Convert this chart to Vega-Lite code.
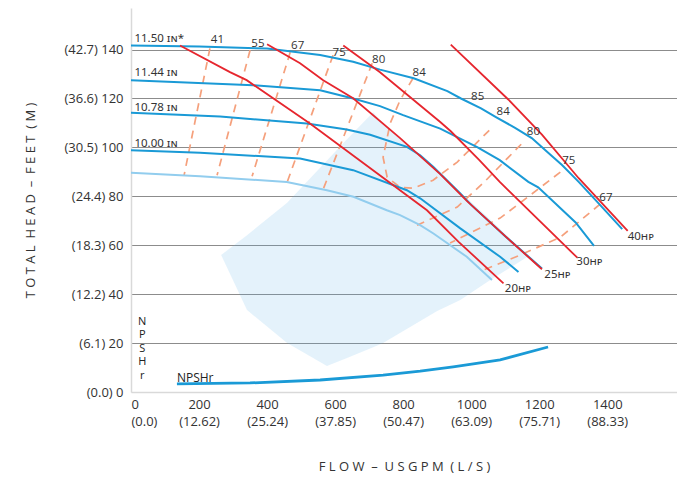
{
  "$schema": "https://vega.github.io/schema/vega-lite/v6.json",
  "width": 546,
  "height": 384,
  "autosize": {"type": "none"},
  "padding": {"left": 131, "top": 8, "right": 0, "bottom": 86},
  "config": {"view": {"stroke": null}, "font": "Open Sans", "text": {"font": "Open Sans", "color": "#333333"}},
  "datasets": {
    "shade": [
      {"flow": 265, "head": 56.0, "head2": 56.0},
      {"flow": 341, "head": 33.5, "head2": 64.1},
      {"flow": 459, "head": 20.0, "head2": 77.4},
      {"flow": 576, "head": 10.6, "head2": 94.6},
      {"flow": 635, "head": 13.9, "head2": 103.3},
      {"flow": 712, "head": 18.3, "head2": 114.4},
      {"flow": 741, "head": 20.0, "head2": 109.7},
      {"flow": 900, "head": 33.1, "head2": 90.2},
      {"flow": 968, "head": 37.6, "head2": 81.7},
      {"flow": 1056, "head": 45.8, "head2": 70.5},
      {"flow": 1168, "head": 55.5, "head2": 55.5}
    ],
    "eff": [
      {"series": "41", "i": 1, "flow": 232, "head": 140.5},
      {"series": "41", "i": 2, "flow": 156, "head": 88.6},
      {"series": "55", "i": 1, "flow": 350, "head": 139.7},
      {"series": "55", "i": 2, "flow": 253, "head": 88.6},
      {"series": "67L", "i": 1, "flow": 468, "head": 138.9},
      {"series": "67L", "i": 2, "flow": 356, "head": 88.2},
      {"series": "75L", "i": 1, "flow": 594, "head": 137.7},
      {"series": "75L", "i": 2, "flow": 459, "head": 85.8},
      {"series": "80L", "i": 1, "flow": 709, "head": 134.4},
      {"series": "80L", "i": 2, "flow": 565, "head": 82.9},
      {"series": "84", "i": 1, "flow": 829, "head": 128.3},
      {"series": "84", "i": 2, "flow": 791, "head": 119.3},
      {"series": "84", "i": 3, "flow": 762, "head": 109.9},
      {"series": "84", "i": 4, "flow": 741, "head": 96.0},
      {"series": "84", "i": 5, "flow": 753, "head": 87.8},
      {"series": "84", "i": 6, "flow": 791, "head": 83.7},
      {"series": "84", "i": 7, "flow": 829, "head": 83.3},
      {"series": "84", "i": 8, "flow": 888, "head": 86.6},
      {"series": "84", "i": 9, "flow": 959, "head": 94.0},
      {"series": "84", "i": 10, "flow": 1059, "head": 107.8},
      {"series": "80R", "i": 1, "flow": 1147, "head": 101.3},
      {"series": "80R", "i": 2, "flow": 1038, "head": 85.8},
      {"series": "80R", "i": 3, "flow": 959, "head": 75.6},
      {"series": "80R", "i": 4, "flow": 841, "head": 68.2},
      {"series": "75R", "i": 1, "flow": 1262, "head": 89.9},
      {"series": "75R", "i": 2, "flow": 1174, "head": 80.5},
      {"series": "75R", "i": 3, "flow": 1085, "head": 71.1},
      {"series": "75R", "i": 4, "flow": 938, "head": 60.9},
      {"series": "67R", "i": 1, "flow": 1379, "head": 76.8},
      {"series": "67R", "i": 2, "flow": 1262, "head": 63.3},
      {"series": "67R", "i": 3, "flow": 1144, "head": 56.0},
      {"series": "67R", "i": 4, "flow": 1035, "head": 49.8}
    ],
    "curves": [
      {"series": "11.50", "kind": "main", "flow": 0, "head": 141.7},
      {"series": "11.50", "kind": "main", "flow": 200, "head": 141.3},
      {"series": "11.50", "kind": "main", "flow": 400, "head": 140.4},
      {"series": "11.50", "kind": "main", "flow": 556, "head": 137.8},
      {"series": "11.50", "kind": "main", "flow": 653, "head": 135.0},
      {"series": "11.50", "kind": "main", "flow": 732, "head": 131.8},
      {"series": "11.50", "kind": "main", "flow": 831, "head": 128.3},
      {"series": "11.50", "kind": "main", "flow": 930, "head": 123.0},
      {"series": "11.50", "kind": "main", "flow": 970, "head": 120.0},
      {"series": "11.50", "kind": "main", "flow": 1029, "head": 116.0},
      {"series": "11.50", "kind": "main", "flow": 1074, "head": 112.3},
      {"series": "11.50", "kind": "main", "flow": 1129, "head": 108.0},
      {"series": "11.50", "kind": "main", "flow": 1178, "head": 103.8},
      {"series": "11.50", "kind": "main", "flow": 1228, "head": 97.6},
      {"series": "11.50", "kind": "main", "flow": 1267, "head": 92.8},
      {"series": "11.50", "kind": "main", "flow": 1316, "head": 85.9},
      {"series": "11.50", "kind": "main", "flow": 1380, "head": 76.3},
      {"series": "11.50", "kind": "main", "flow": 1444, "head": 66.6},
      {"series": "11.44", "kind": "main", "flow": 0, "head": 127.5},
      {"series": "11.44", "kind": "main", "flow": 359, "head": 125.4},
      {"series": "11.44", "kind": "main", "flow": 556, "head": 123.4},
      {"series": "11.44", "kind": "main", "flow": 653, "head": 120.0},
      {"series": "11.44", "kind": "main", "flow": 732, "head": 116.9},
      {"series": "11.44", "kind": "main", "flow": 800, "head": 113.2},
      {"series": "11.44", "kind": "main", "flow": 909, "head": 107.7},
      {"series": "11.44", "kind": "main", "flow": 1019, "head": 100.0},
      {"series": "11.44", "kind": "main", "flow": 1084, "head": 94.8},
      {"series": "11.44", "kind": "main", "flow": 1168, "head": 85.9},
      {"series": "11.44", "kind": "main", "flow": 1197, "head": 83.7},
      {"series": "11.44", "kind": "main", "flow": 1307, "head": 69.3},
      {"series": "11.44", "kind": "main", "flow": 1361, "head": 59.7},
      {"series": "10.78", "kind": "main", "flow": 0, "head": 114.2},
      {"series": "10.78", "kind": "main", "flow": 262, "head": 112.6},
      {"series": "10.78", "kind": "main", "flow": 517, "head": 109.8},
      {"series": "10.78", "kind": "main", "flow": 634, "head": 107.3},
      {"series": "10.78", "kind": "main", "flow": 703, "head": 105.2},
      {"series": "10.78", "kind": "main", "flow": 811, "head": 100.2},
      {"series": "10.78", "kind": "main", "flow": 850, "head": 96.8},
      {"series": "10.78", "kind": "main", "flow": 889, "head": 92.0},
      {"series": "10.78", "kind": "main", "flow": 968, "head": 81.2},
      {"series": "10.78", "kind": "main", "flow": 1000, "head": 76.5},
      {"series": "10.78", "kind": "main", "flow": 1100, "head": 63.7},
      {"series": "10.78", "kind": "main", "flow": 1208, "head": 50.5},
      {"series": "10.00", "kind": "main", "flow": 0, "head": 98.8},
      {"series": "10.00", "kind": "main", "flow": 203, "head": 97.8},
      {"series": "10.00", "kind": "main", "flow": 497, "head": 95.5},
      {"series": "10.00", "kind": "main", "flow": 653, "head": 90.7},
      {"series": "10.00", "kind": "main", "flow": 811, "head": 82.5},
      {"series": "10.00", "kind": "main", "flow": 850, "head": 79.2},
      {"series": "10.00", "kind": "main", "flow": 968, "head": 66.9},
      {"series": "10.00", "kind": "main", "flow": 1085, "head": 55.3},
      {"series": "10.00", "kind": "main", "flow": 1139, "head": 49.1},
      {"series": "min", "kind": "min", "flow": 0, "head": 89.6},
      {"series": "min", "kind": "min", "flow": 203, "head": 88.2},
      {"series": "min", "kind": "min", "flow": 458, "head": 85.9},
      {"series": "min", "kind": "min", "flow": 576, "head": 82.5},
      {"series": "min", "kind": "min", "flow": 654, "head": 79.8},
      {"series": "min", "kind": "min", "flow": 752, "head": 74.3},
      {"series": "min", "kind": "min", "flow": 791, "head": 72.3},
      {"series": "min", "kind": "min", "flow": 850, "head": 68.2},
      {"series": "min", "kind": "min", "flow": 889, "head": 64.8},
      {"series": "min", "kind": "min", "flow": 987, "head": 55.3},
      {"series": "min", "kind": "min", "flow": 1061, "head": 45.8}
    ],
    "hp": [
      {"series": "20", "flow": 144, "head": 141.7},
      {"series": "20", "flow": 291, "head": 130.8},
      {"series": "20", "flow": 340, "head": 127.5},
      {"series": "20", "flow": 526, "head": 109.8},
      {"series": "20", "flow": 870, "head": 74.3},
      {"series": "20", "flow": 963, "head": 61.4},
      {"series": "20", "flow": 1095, "head": 44.4},
      {"series": "25", "flow": 400, "head": 142.2},
      {"series": "25", "flow": 497, "head": 134.4},
      {"series": "25", "flow": 565, "head": 127.5},
      {"series": "25", "flow": 653, "head": 120.1},
      {"series": "25", "flow": 791, "head": 103.8},
      {"series": "25", "flow": 909, "head": 89.1},
      {"series": "25", "flow": 988, "head": 78.0},
      {"series": "25", "flow": 1100, "head": 63.7},
      {"series": "25", "flow": 1208, "head": 50.2},
      {"series": "30", "flow": 624, "head": 141.7},
      {"series": "30", "flow": 732, "head": 130.7},
      {"series": "30", "flow": 909, "head": 110.4},
      {"series": "30", "flow": 940, "head": 106.6},
      {"series": "30", "flow": 1024, "head": 94.8},
      {"series": "30", "flow": 1084, "head": 85.9},
      {"series": "30", "flow": 1312, "head": 54.9},
      {"series": "40", "flow": 940, "head": 142.0},
      {"series": "40", "flow": 1109, "head": 119.6},
      {"series": "40", "flow": 1208, "head": 105.2},
      {"series": "40", "flow": 1316, "head": 87.4},
      {"series": "40", "flow": 1460, "head": 65.9}
    ],
    "npsh": [
      {"flow": 135, "head": 3.3},
      {"flow": 350, "head": 3.7},
      {"flow": 556, "head": 4.9},
      {"flow": 741, "head": 6.9},
      {"flow": 850, "head": 8.5},
      {"flow": 947, "head": 10.3},
      {"flow": 1085, "head": 13.1},
      {"flow": 1226, "head": 18.4}
    ],
    "leftLabels": [
      {"flow": 10, "head": 144.4, "text": "11.50 ɪɴ*"},
      {"flow": 10, "head": 130.3, "text": "11.44 ɪɴ"},
      {"flow": 10, "head": 116.3, "text": "10.78 ɪɴ"},
      {"flow": 10, "head": 101.3, "text": "10.00 ɪɴ"},
      {"flow": 1460, "head": 63.4, "text": "40ʜᴘ"},
      {"flow": 1309, "head": 53.2, "text": "30ʜᴘ"},
      {"flow": 1215, "head": 47.7, "text": "25ʜᴘ"},
      {"flow": 1099, "head": 42.1, "text": "20ʜᴘ"}
    ],
    "npshLabel": [
      {"flow": 135, "head": 5.7, "text": "NPSHr"}
    ],
    "effLabels": [
      {"flow": 254, "head": 143.8, "text": "41"},
      {"flow": 373, "head": 142.4, "text": "55"},
      {"flow": 490, "head": 141.3, "text": "67"},
      {"flow": 612, "head": 138.6, "text": "75"},
      {"flow": 728, "head": 135.6, "text": "80"},
      {"flow": 847, "head": 130.6, "text": "84"},
      {"flow": 1019, "head": 120.6, "text": "85"},
      {"flow": 1094, "head": 114.5, "text": "84"},
      {"flow": 1183, "head": 106.2, "text": "80"},
      {"flow": 1287, "head": 94.6, "text": "75"},
      {"flow": 1396, "head": 79.4, "text": "67"}
    ],
    "vlabel": [
      {"flow": 33, "head": 31.2, "text": ["N", "P", "S", "H", "r"]}
    ]
  },
  "encoding": {
    "x": {
      "field": "flow",
      "type": "quantitative",
      "scale": {"domain": [0, 1605], "nice": false, "zero": false},
      "axis": {
        "title": "F L O W \u00a0–\u00a0 U S G P M \u00a0( L / S )",
        "values": [0, 200, 400, 600, 800, 1000, 1200, 1400],
        "format": "d",
        "labelExpr": "datum.value === 0 ? ['0', '(0.0)'] : [datum.label, '(' + format(datum.value * 0.0630902, '.2f') + ')']",
        "grid": false,
        "ticks": false,
        "domainColor": "#d9d9d9",
        "domainWidth": 1.5,
        "labelFontSize": 13,
        "labelColor": "#333333",
        "labelPadding": 6,
        "labelLineHeight": 17,
        "titleFontSize": 13,
        "titleFontWeight": "normal",
        "titleColor": "#333333",
        "titlePadding": 32
      }
    },
    "y": {
      "field": "head",
      "type": "quantitative",
      "scale": {"domain": [0, 157], "nice": false},
      "axis": {
        "title": "T O T A L \u00a0H E A D \u00a0–\u00a0 F E E T \u00a0( M )",
        "values": [0, 20, 40, 60, 80, 100, 120, 140],
        "labelExpr": "'(' + format(datum.value * 0.3048, '.1f') + ') ' + datum.label",
        "grid": true,
        "gridColor": {"condition": {"test": "datum.value === 0", "value": "#dddddd"}, "value": "#8c8c8c"},
        "gridWidth": 1.2,
        "ticks": false,
        "domainColor": "#d9d9d9",
        "domainWidth": 1.5,
        "labelFontSize": 13,
        "labelColor": "#333333",
        "labelPadding": 8,
        "titleFontSize": 13,
        "titleFontWeight": "normal",
        "titleColor": "#333333",
        "titlePadding": 26
      }
    }
  },
  "layer": [
    {
      "data": {"name": "shade"},
      "mark": {"type": "area", "color": "#5aaee6", "opacity": 0.16},
      "encoding": {"y2": {"field": "head2"}}
    },
    {
      "data": {"name": "eff"},
      "mark": {"type": "line", "color": "#f5a07c", "strokeWidth": 1.7, "strokeDash": [8, 6]},
      "encoding": {"detail": {"field": "series"}, "order": {"field": "i", "type": "quantitative"}}
    },
    {
      "data": {"name": "curves"},
      "mark": {"type": "line", "strokeWidth": 2},
      "encoding": {
        "detail": {"field": "series"},
        "color": {"field": "kind", "type": "nominal", "scale": {"domain": ["main", "min"], "range": ["#1a9ad6", "#92cdee"]}, "legend": null}
      }
    },
    {
      "data": {"name": "hp"},
      "mark": {"type": "line", "color": "#e6262e", "strokeWidth": 1.8},
      "encoding": {"detail": {"field": "series"}}
    },
    {
      "data": {"name": "npsh"},
      "mark": {"type": "line", "color": "#1a9ad6", "strokeWidth": 2.8},
      "encoding": {}
    },
    {
      "data": {"name": "leftLabels"},
      "mark": {"type": "text", "align": "left", "baseline": "middle", "fontSize": 11.5, "font": "Noto Sans", "color": "#333333"},
      "encoding": {"text": {"field": "text"}}
    },
    {
      "data": {"name": "npshLabel"},
      "mark": {"type": "text", "align": "left", "baseline": "middle", "fontSize": 12, "color": "#222222"},
      "encoding": {"text": {"field": "text"}}
    },
    {
      "data": {"name": "effLabels"},
      "mark": {"type": "text", "align": "center", "baseline": "middle", "fontSize": 11.5, "color": "#333333"},
      "encoding": {"text": {"field": "text"}}
    },
    {
      "data": {"name": "vlabel"},
      "mark": {"type": "text", "align": "center", "baseline": "top", "fontSize": 11, "lineHeight": 13.5, "color": "#222222"},
      "encoding": {"text": {"field": "text"}}
    }
  ]
}
